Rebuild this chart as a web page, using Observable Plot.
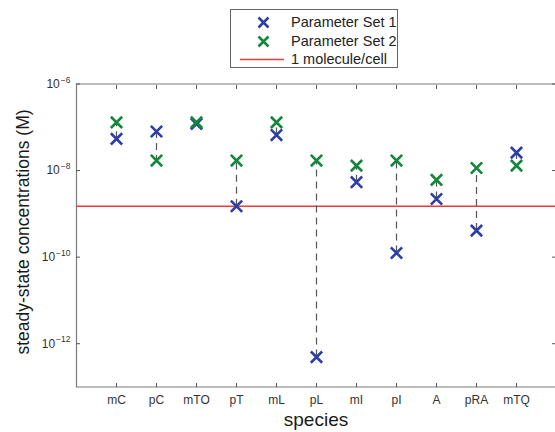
<!DOCTYPE html>
<html>
<head>
<meta charset="utf-8">
<script src="https://cdn.jsdelivr.net/npm/d3@7"></script>
<script src="https://cdn.jsdelivr.net/npm/@observablehq/plot@0.6"></script>
<style>
  html, body { margin: 0; padding: 0; background: #fff; }
  #wrap { position: relative; width: 555px; height: 432px; font-family: "Liberation Sans", Arial, sans-serif; }
  #legend { position: absolute; left: 230px; top: 9px; width: 168px; height: 59px; border: 1px solid #666; background: #fff; box-sizing: border-box; font-size: 14.5px; color: #222; }
  .row { position: absolute; left: 0; height: 18px; line-height: 18px; }
  .row span { position: absolute; left: 60px; white-space: nowrap; }
</style>
</head>
<body>
<div id="wrap">
  <div id="chart"></div>
  <div id="legend"></div>
</div>
<script>
const species = ["mC", "pC", "mTO", "pT", "mL", "pL", "mI", "pI", "A", "pRA", "mTQ"];
const set1 = [5.4e-8, 8.0e-8, 1.2e-7, 1.5e-9, 6.6e-8, 4.9e-13, 5.4e-9, 1.25e-10, 2.2e-9, 4.1e-10, 2.6e-8];
const set2 = [1.3e-7, 1.7e-8, 1.3e-7, 1.7e-8, 1.3e-7, 1.7e-8, 1.3e-8, 1.7e-8, 6.1e-9, 1.15e-8, 1.3e-8];
const oneMolecule = 1.5e-9;
const yTicks = [1e-6, 1e-8, 1e-10, 1e-12];
const seriesNames = ["Parameter Set 1", "Parameter Set 2", "1 molecule/cell"];

const blue = "#2b3fa8", green = "#13873a", red = "#ee3a3a", frameColor = "#7a7a7a";

const rows = species.map((s, i) => ({i: i + 1, s, a: set1[i], b: set2[i]}));
const fmtY = d => "10^" + Math.round(Math.log10(d));

const plot = Plot.plot({
  width: 555,
  height: 432,
  marginTop: 84,
  marginBottom: 45,
  marginLeft: 76,
  marginRight: 0,
  style: {fontFamily: "Liberation Sans, Arial, sans-serif", background: "white"},
  x: {domain: [0, 12], range: [76, 556]},
  y: {type: "log", domain: [1e-13, 1e-6], range: [386.5, 83.5]},
  marks: [
    Plot.ruleY([1e-6, 1e-13], {stroke: frameColor, strokeWidth: 1.2}),
    Plot.ruleX([0, 12], {stroke: frameColor, strokeWidth: 1.2}),
    Plot.axisX({anchor: "bottom", ticks: d3.range(1, 12), tickFormat: i => species[i - 1], tickSize: -4, tickPadding: 12, fontSize: 12, color: "#333", stroke: "#555", label: null}),
    Plot.axisX({anchor: "top", ticks: d3.range(1, 12), tickFormat: () => "", tickSize: -4, stroke: "#555", label: null}),
    Plot.axisY({anchor: "left", ticks: yTicks, tickFormat: fmtY, tickSize: -4, tickPadding: 10, fontSize: 12, color: "#333", stroke: "#555", label: null}),
    Plot.axisY({anchor: "right", ticks: yTicks, tickFormat: () => "", tickSize: -4, stroke: "#555", label: null}),
    Plot.ruleY([oneMolecule], {stroke: red, strokeWidth: 1.5}),
    Plot.ruleX(rows, {x: "i", y1: "a", y2: "b", stroke: "#555", strokeWidth: 1.2, strokeDasharray: "7,5"}),
    Plot.dot(rows, {x: "i", y: "a", symbol: "times", r: 5.2, stroke: blue, strokeWidth: 2.6}),
    Plot.dot(rows, {x: "i", y: "b", symbol: "times", r: 5.2, stroke: green, strokeWidth: 2.6})
  ]
});
document.getElementById("chart").appendChild(plot);

const svg = d3.select(plot);
// superscript exponents on the y tick labels
svg.selectAll("text").each(function() {
  const t = d3.select(this);
  const txt = t.text();
  if (!/^10\^/.test(txt)) return;
  const exp = txt.slice(3).replace("-", "\u2212");
  t.text("");
  t.append("tspan").text("10");
  t.append("tspan").attr("font-size", 8.5).attr("dy", "-0.6em").attr("dx", "1").text(exp);
});
svg.append("text")
  .attr("transform", "translate(24,232) rotate(-90)")
  .attr("text-anchor", "middle").attr("dominant-baseline", "middle")
  .attr("font-size", 17.5).attr("fill", "#1a1a1a")
  .text("steady-state concentrations (M)");
svg.append("text")
  .attr("x", 316).attr("y", 421)
  .attr("text-anchor", "middle").attr("dominant-baseline", "middle")
  .attr("font-size", 19).attr("fill", "#1a1a1a")
  .text("species");

// legend
const leg = d3.select("#legend");
const colors = [blue, green, red];
seriesNames.forEach((name, k) => {
  const row = leg.append("div").attr("class", "row").style("top", (3 + k * 18.5) + "px").style("width", "166px");
  const s = row.append("svg").attr("width", 56).attr("height", 18).style("position", "absolute").style("left", "0px");
  if (k < 2) {
    s.append("path").attr("d", "M27.5,4.5L37.5,14.5M37.5,4.5L27.5,14.5").attr("stroke", colors[k]).attr("stroke-width", 2.6).attr("fill", "none");
  } else {
    s.append("line").attr("x1", 9).attr("x2", 53).attr("y1", 9.5).attr("y2", 9.5).attr("stroke", red).attr("stroke-width", 1.3);
  }
  row.append("span").text(name);
});
</script>
</body>
</html>
